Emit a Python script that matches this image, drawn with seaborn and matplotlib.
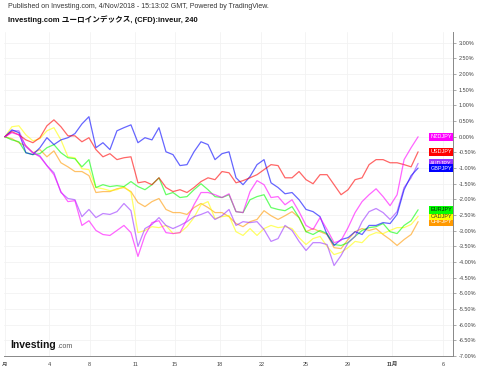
import numpy as np
import pandas as pd
import matplotlib
matplotlib.use("Agg")
import matplotlib.pyplot as plt
import seaborn as sns

# -----------------------------
# data: % change per bar (240 min)
# -----------------------------
gbpjpy = [0.00, 0.22, 0.13, -0.51, -0.57, -0.35, -0.03, -0.25, -0.10, -0.03,
          0.10, 0.41, 0.64, -0.35, -0.19, -0.41, 0.19, 0.29, 0.38, -0.19,
          -0.03, -0.10, 0.29, -0.48, -0.57, -0.92, -0.89, -0.48, -0.16, -0.25,
          -0.73, -0.54, -0.48, -1.31, -1.53, -1.27, -0.89, -0.73, -1.47, -1.62,
          -1.82, -1.78, -2.01, -2.32, -2.39, -2.55, -3.12, -3.47, -3.28, -3.22,
          -3.03, -3.12, -2.83, -2.83, -2.74, -2.77, -2.48, -1.69, -1.24, -1.00]
usdjpy = [0.00, 0.16, 0.06, -0.10, -0.19, -0.03, 0.35, 0.54, 0.32, 0.03,
          0.03, -0.16, -0.03, -0.41, -0.64, -0.54, -0.73, -0.67, -0.64, -1.47,
          -1.43, -1.53, -1.31, -1.62, -1.75, -1.69, -1.78, -1.62, -1.43, -1.31,
          -1.37, -1.11, -1.15, -1.47, -1.40, -1.31, -1.21, -1.05, -0.89, -0.92,
          -1.31, -1.31, -1.11, -1.37, -1.50, -1.21, -1.21, -1.53, -1.85, -1.69,
          -1.37, -1.31, -0.89, -0.73, -0.73, -0.83, -0.83, -0.89, -0.96, -0.48]
eurjpy = [0.00, -0.10, -0.16, -0.51, -0.57, -0.54, -0.35, -0.25, -0.51, -0.67,
          -0.70, -0.96, -0.73, -1.62, -1.53, -1.59, -1.56, -1.59, -1.43, -1.59,
          -1.69, -1.53, -1.31, -1.85, -1.78, -1.94, -1.91, -1.69, -1.50, -1.69,
          -1.91, -1.94, -1.85, -2.39, -2.42, -2.01, -1.91, -1.85, -2.26, -2.32,
          -2.36, -2.23, -2.58, -3.03, -3.12, -2.99, -3.09, -3.44, -3.47, -3.38,
          -3.18, -2.99, -2.90, -2.87, -2.77, -3.03, -3.09, -2.83, -2.68, -2.33]
cadjpy = [0.00, 0.32, 0.35, 0.06, -0.13, -0.06, 0.19, 0.29, -0.10, -0.64,
          -0.67, -1.02, -1.05, -1.62, -1.66, -1.72, -1.69, -1.59, -1.78, -3.06,
          -2.99, -2.87, -2.90, -2.83, -3.09, -3.06, -2.87, -2.58, -2.17, -2.07,
          -2.61, -2.55, -2.52, -3.03, -3.15, -2.93, -3.15, -2.93, -2.83, -2.90,
          -2.87, -2.93, -3.22, -3.44, -3.25, -3.18, -3.50, -3.76, -3.69, -3.54,
          -3.34, -3.38, -3.15, -3.06, -3.09, -2.99, -2.90, -2.90, -2.80, -2.54]
chfjpy = [0.00, -0.06, -0.19, -0.29, -0.51, -0.41, -0.64, -0.45, -0.83, -0.96,
          -1.11, -1.11, -1.24, -1.78, -1.75, -1.75, -1.66, -1.62, -1.75, -2.10,
          -2.23, -2.07, -1.97, -2.32, -2.42, -2.42, -2.48, -2.26, -2.13, -2.26,
          -2.42, -2.42, -2.55, -2.77, -2.87, -2.71, -2.64, -2.36, -2.52, -2.64,
          -2.52, -2.39, -2.58, -3.03, -2.93, -3.03, -3.12, -3.54, -3.57, -3.28,
          -3.03, -2.93, -2.99, -2.93, -3.12, -3.28, -3.47, -3.28, -3.12, -2.71]
nzdjpy = [0.00, 0.13, 0.06, -0.29, -0.51, -0.64, -0.92, -1.21, -1.75, -2.07,
          -2.04, -2.83, -2.68, -2.99, -3.12, -3.15, -2.99, -2.83, -3.06, -3.82,
          -3.15, -2.74, -2.68, -3.06, -3.09, -3.06, -2.64, -2.17, -1.78, -1.78,
          -1.85, -1.94, -1.82, -2.39, -2.42, -1.75, -1.40, -1.53, -1.94, -1.91,
          -2.17, -2.01, -2.39, -2.83, -2.96, -2.58, -2.96, -3.38, -3.31, -2.90,
          -2.42, -2.07, -1.85, -1.66, -1.91, -2.20, -1.85, -0.73, -0.35, 0.00]
audjpy = [0.00, 0.19, 0.19, -0.32, -0.51, -0.61, -0.92, -1.15, -1.78, -1.97,
          -2.01, -2.55, -2.32, -2.58, -2.45, -2.48, -2.39, -2.13, -2.36, -3.50,
          -2.93, -2.80, -2.58, -2.83, -2.93, -2.83, -2.71, -2.55, -2.48, -2.39,
          -2.64, -2.52, -2.32, -2.83, -2.71, -2.74, -2.71, -2.96, -3.34, -3.25,
          -2.83, -2.99, -3.34, -3.63, -3.38, -3.38, -3.44, -4.11, -3.79, -3.38,
          -3.18, -2.71, -2.39, -2.29, -2.42, -2.64, -2.39, -1.62, -1.31, -0.85]

pairs = ["CHFJPY", "CADJPY", "EURJPY", "AUDJPY", "GBPJPY", "USDJPY", "NZDJPY"]
series = [chfjpy, cadjpy, eurjpy, audjpy, gbpjpy, usdjpy, nzdjpy]
colors = ["#ff9900", "#ffff00", "#00ff00", "#9933ff", "#0000ff", "#ff0000", "#ff00ff"]
text_colors = ["white", "#333333", "#111111", "white", "white", "white", "white"]

tick_labels = ["月", "4", "8", "11", "15", "18", "22", "25", "29", "11月", "6"]
tick_idx = [0, 6.3, 12.1, 18.6, 24.3, 30.7, 36.6, 42.9, 48.9, 55.3, 62.6]

df = pd.concat([pd.DataFrame({"bar": np.arange(len(s)), "pct": s, "pair": p})
                for p, s in zip(pairs, series)], ignore_index=True)

# -----------------------------
# plot
# -----------------------------
sns.set_style("white")
plt.rcParams["font.family"] = ["Liberation Sans", "Noto Sans CJK JP", "DejaVu Sans"]

fig = plt.figure(figsize=(4.8, 3.69), dpi=100)
ax = fig.add_axes([0.008, 0.035, 0.936, 0.878])

sns.lineplot(data=df, x="bar", y="pct", hue="pair", hue_order=pairs,
             palette=dict(zip(pairs, colors)), linewidth=0.9, alpha=0.6,
             legend=False, ax=ax)

ax.set_xlim(-0.15, 64)
ax.set_ylim(-6.97, 3.34)
ax.yaxis.tick_right()
yt = np.arange(-7.0, 3.01, 0.5)
ax.set_yticks(yt)
ax.set_yticklabels([f"{v:.2f}%" for v in yt], fontsize=4, color="#444444")
ax.set_xticks(tick_idx)
ax.set_xticklabels(tick_labels, fontsize=4, color="#444444")
ax.get_xticklabels()[9].set_fontweight("bold")
ax.tick_params(axis="both", length=2, width=0.5, color="#888888", pad=2)
ax.grid(True, color="#f2f2f2", linewidth=0.6)
ax.set_xlabel("")
ax.set_ylabel("")
for side in ["top", "left"]:
    ax.spines[side].set_visible(False)
for side in ["bottom", "right"]:
    ax.spines[side].set_color("#888888")
    ax.spines[side].set_linewidth(0.7)

# end-of-line labels
for p, s, c, tc in zip(pairs, series, colors, text_colors):
    ax.text(63.85, s[-1], p, ha="right", va="center", fontsize=4, color=tc,
            bbox=dict(boxstyle="square,pad=0.25", fc=c, ec="none"))

fig.text(8 / 480, 1 - 7 / 369, "Published on Investing.com, 4/Nov/2018 - 15:13:02 GMT, Powered by TradingView.",
         fontsize=5, color="#333333", va="center")
fig.text(8 / 480, 1 - 20 / 369, "Investing.com ユーロインデックス, (CFD):inveur, 240",
         fontsize=5.5, fontweight="bold", color="#111111", va="center",
         family=["Liberation Sans", "Noto Sans CJK JP"])
fig.text(10 / 480, 1 - 345 / 369, "Investing", fontsize=7.5, fontweight="bold",
         color="#111111", va="center")
fig.text(57 / 480, 1 - 346 / 369, ".com", fontsize=5, color="#555555", va="center")

plt.savefig("out.png", dpi=100)
